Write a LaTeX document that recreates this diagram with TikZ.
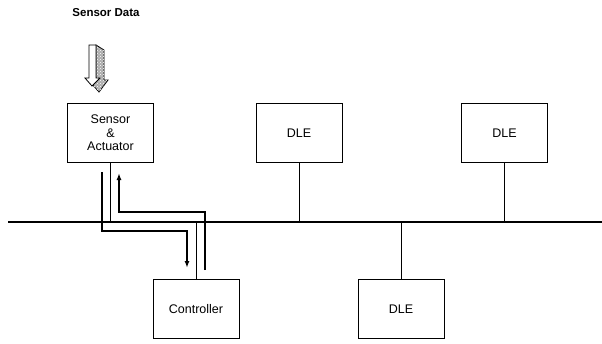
\documentclass[tikz,border=0pt]{standalone}
\usepackage{fontspec}
\setmainfont{Liberation Sans}
\usetikzlibrary{patterns,arrows.meta}

\tikzset{
  unit/.style={draw,line width=0.9pt,minimum width=86pt,minimum height=59pt,align=center,font=\fontsize{12.5}{14.5}\selectfont},
  tap/.style={line width=0.9pt},
  flow/.style={line width=1.6pt,-{Latex[length=7pt,width=5pt]}},
}

\begin{document}
\begin{tikzpicture}[x=1pt,y=-1pt]
\useasboundingbox (0,0) rectangle (602,343);

\node[font=\bfseries\fontsize{11.5}{13}\selectfont] (title) at (106,13) {Sensor Data};

% stations on the bus
\node[unit] (sensor) at (110.5,133) {Sensor\\[-1pt]\&\\[-1pt]Actuator};
\node[unit] (dleA) at (299,133) {DLE};
\node[unit] (dleB) at (504.5,133) {DLE};
\node[unit] (ctrl) at (196,309) {Controller};
\node[unit] (dleC) at (401,309) {DLE};

% bus
\coordinate (busL) at (8,222);
\coordinate (busR) at (602,222);
\draw[line width=1.1pt] (busL) -- (busR);

\draw[tap] (sensor.south) -- (sensor.south |- busL);
\draw[tap] (dleA.south) -- (dleA.south |- busL);
\draw[tap] (dleB.south) -- (dleB.south |- busL);
\draw[tap] (ctrl.north) -- (ctrl.north |- busL);
\draw[tap] (dleC.north) -- (dleC.north |- busL);

% message paths
\coordinate (outA) at (102,172);
\coordinate (outB) at (187,268);
\coordinate (inA) at (205,270);
\coordinate (inB) at (119,173);
\draw[flow] (outA) -- (102,231) -- (outB |- 0,231) -- (outB);
\draw[flow] (inA) -- (inA |- 0,212) -- (inB |- 0,212) -- (inB);

% shaded input arrow
\draw[line width=0.8pt,fill=gray!65]
  (96,45) -- (104,50) -- (104,80) -- (108,80) -- (99,92) -- (92,84) -- (96,78) -- cycle;
\fill[pattern=crosshatch dots,pattern color=white]
  (96,45) -- (104,50) -- (104,80) -- (108,80) -- (99,92) -- (92,84) -- (96,78) -- cycle;
\draw[line width=0.8pt,fill=white]
  (89,45) -- (96,45) -- (96,78) -- (100,78) -- (92,86) -- (85,78) -- (89,78) -- cycle;
\end{tikzpicture}
\end{document}
